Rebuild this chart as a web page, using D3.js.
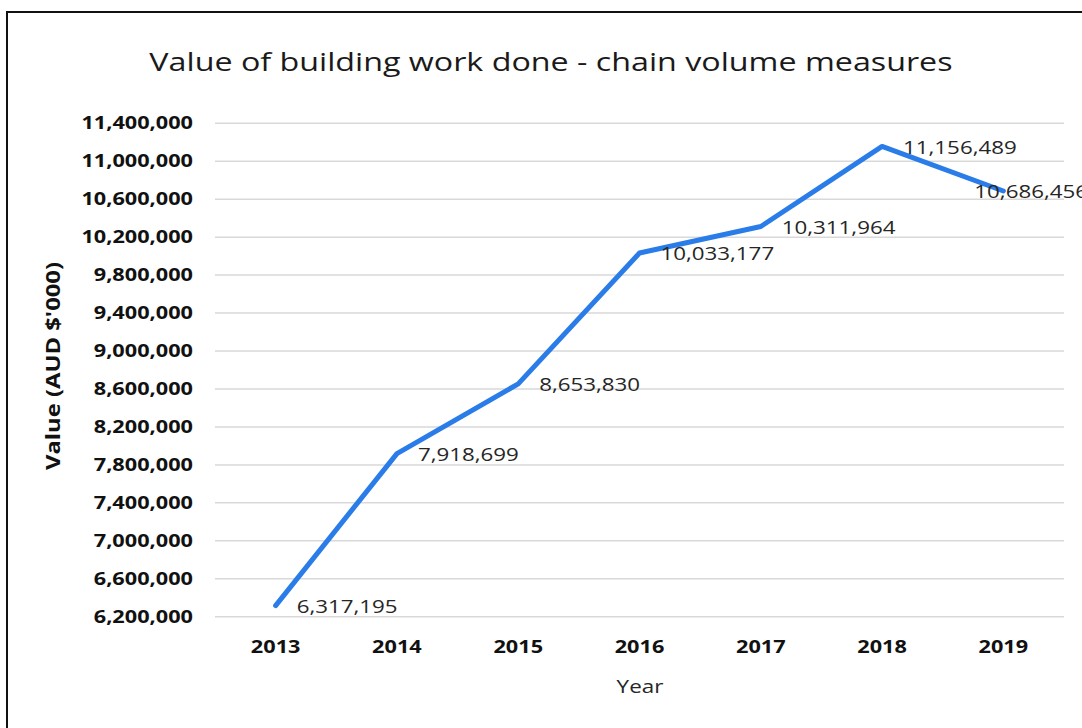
<!DOCTYPE html>
<html>
<head>
<meta charset="utf-8">
<script src="https://cdn.jsdelivr.net/npm/d3@7"></script>
<style>
  body { margin: 0; background: #fff; }
  svg { display: block; font-family: "Open Sans", "Noto Sans", sans-serif; }
</style>
</head>
<body>
<svg id="chart" width="1082" height="728"></svg>
<script>
const years = ["2013", "2014", "2015", "2016", "2017", "2018", "2019"];
const values = [6317195, 7918699, 8653830, 10033177, 10311964, 11156489, 10686456];
const yTicks = [6200000, 6600000, 7000000, 7400000, 7800000, 8200000, 8600000, 9000000,
    9400000, 9800000, 10200000, 10600000, 11000000, 11400000];

const svg = d3.select("#chart");
const fmt = d3.format(",");
const wide = 1.24;   //  the reference type is set wider than Open Sans

//  stretch a text selection horizontally to mimic the wider face
function stretch(sel, k) {
    sel.each(function () {
        const w = this.getComputedTextLength();
        d3.select(this).attr("textLength", w * k).attr("lengthAdjust", "spacingAndGlyphs");
    });
}

//  outer frame of the chart area (right and bottom run off the picture)
svg.append("rect").attr("x", 7).attr("y", 12).attr("width", 1100).attr("height", 740)
    .attr("fill", "white").attr("stroke", "#111").attr("stroke-width", 2);

const x = d3.scaleBand().domain(years).range([215, 1064]);
const y = d3.scaleLinear().domain([6200000, 11400000]).range([616.7, 123.3]);

//  gridlines
svg.append("g").selectAll("line").data(yTicks).join("line")
    .attr("x1", 215).attr("x2", 1064)
    .attr("y1", d => y(d)).attr("y2", d => y(d))
    .attr("stroke", "#d9d9d9").attr("stroke-width", 1.5);

//  y axis labels
const yAxis = svg.append("g").attr("transform", "translate(205,0)")
    .call(d3.axisLeft(y).tickValues(yTicks).tickFormat(fmt).tickSize(0).tickPadding(12));
yAxis.select(".domain").remove();
yAxis.selectAll("text").attr("font-size", 17.5).attr("font-weight", "bold")
    .attr("fill", "#111").attr("font-family", "Open Sans, sans-serif")
    .call(stretch, wide);

//  x axis labels
const xAxis = svg.append("g").attr("transform", "translate(0,633)")
    .call(d3.axisBottom(x).tickSize(0).tickPadding(8));
xAxis.select(".domain").remove();
xAxis.selectAll("text").attr("font-size", 17.5).attr("font-weight", "bold")
    .attr("fill", "#111").attr("font-family", "Open Sans, sans-serif")
    .call(stretch, wide);

//  the line
const cx = d => x(d) + x.bandwidth() / 2;
const pts = years.map((yr, i) => [cx(yr), y(values[i])]);
svg.append("path").datum(pts)
    .attr("d", d3.line())
    .attr("fill", "none").attr("stroke", "#2a7de8").attr("stroke-width", 5)
    .attr("stroke-linejoin", "round").attr("stroke-linecap", "round");

//  data labels; the last one is pulled left, as the reference does
svg.append("g").selectAll("text").data(pts).join("text")
    .attr("x", (d, i) => i === pts.length - 1 ? d[0] - 29 : d[0] + 21)
    .attr("y", d => d[1] + 1)
    .attr("dy", "0.35em")
    .attr("font-size", 18).attr("fill", "#262626")
    .text((d, i) => fmt(values[i]))
    .call(stretch, wide);

//  title
svg.append("text").attr("x", 551).attr("y", 71).attr("text-anchor", "middle")
    .attr("font-size", 26).attr("fill", "#1a1a1a")
    .text("Value of building work done - chain volume measures")
    .call(stretch, wide);

//  axis titles
svg.append("text").attr("x", 640).attr("y", 693).attr("text-anchor", "middle")
    .attr("font-size", 19).attr("fill", "#262626").text("Year")
    .call(stretch, 1.18);
svg.append("text").attr("transform", "translate(60,366) rotate(-90)")
    .attr("text-anchor", "middle").attr("font-size", 20).attr("font-weight", "bold")
    .attr("fill", "#111").text("Value (AUD $'000)")
    .attr("textLength", 208).attr("lengthAdjust", "spacingAndGlyphs");
</script>
</body>
</html>
